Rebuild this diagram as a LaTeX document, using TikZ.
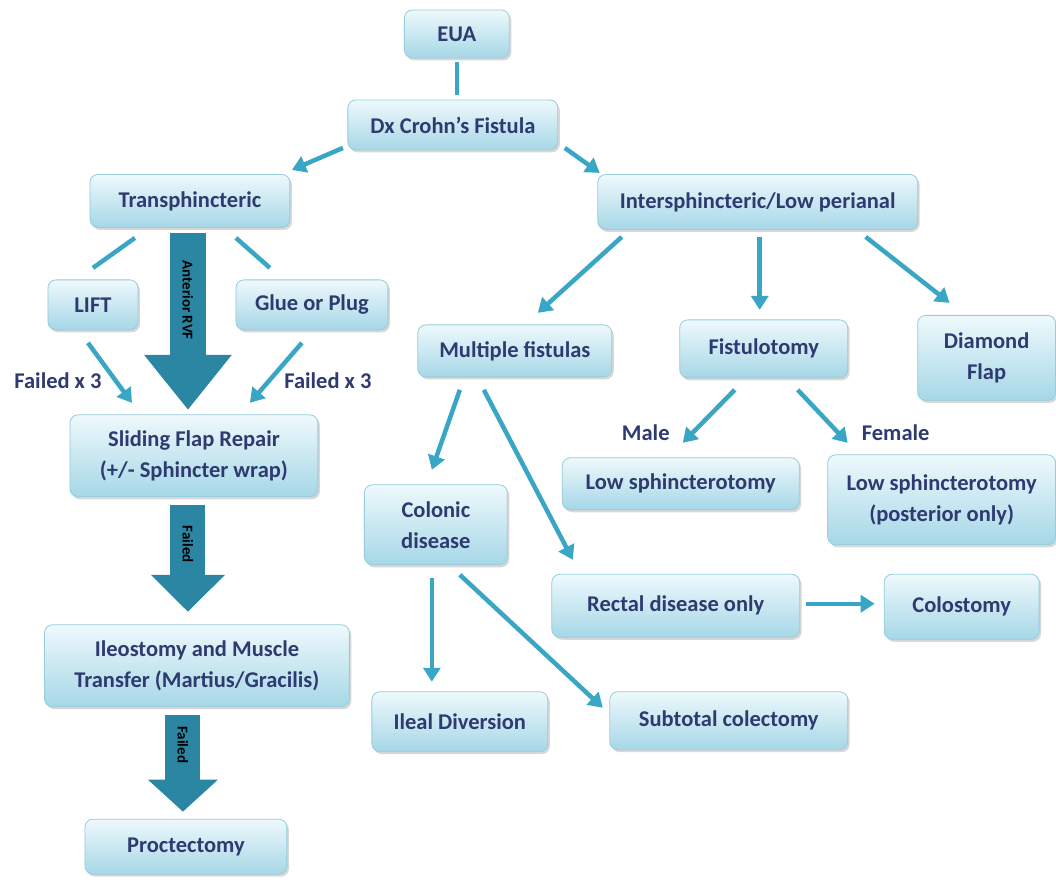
\documentclass[tikz,border=0pt]{standalone}
\usepackage{fontspec}
\setmainfont{Carlito}
\usetikzlibrary{arrows.meta, shadows}

\definecolor{boxtop}{RGB}{238,249,252}
\definecolor{boxbot}{RGB}{166,215,231}
\definecolor{boxline}{RGB}{150,204,221}
\definecolor{txtc}{RGB}{46,58,112}
\definecolor{linkc}{RGB}{58,166,198}
\definecolor{bigc}{RGB}{42,134,162}

\begin{document}
\begin{tikzpicture}
    [
        x=1pt, y=-1pt,
        basic/.style = {text=txtc, font=\bfseries\fontsize{22.5}{31}\selectfont, align=center},
        box/.style = {basic, draw=boxline, line width=0.8pt, rounded corners=8pt,
                      top color=boxtop, bottom color=boxbot,
                      drop shadow={shadow xshift=2pt, shadow yshift=-2.5pt, opacity=0.25, fill=black!60}},
        lbl/.style = {basic},
        link/.style = {draw=linkc, line width=4.5pt},
        conn/.style = {link, -{Triangle[width=17pt, length=14pt]}},
        big/.style = {draw=bigc, line width=36pt},
        bigtxt/.style = {text=black, font=\bfseries\fontsize{15}{16}\selectfont, rotate=-90}
    ]
    \path [fill=white] (0,0) rectangle (1056,882);

    \node [box, minimum width=105pt, minimum height=48pt] (eua) at (457,34) {EUA};
    \node [box, minimum width=210pt, minimum height=50pt] (dx) at (453,125) {Dx Crohn’s Fistula};
    \node [box, minimum width=200pt, minimum height=53pt] (trans) at (190,201) {Transphincteric};
    \node [box, minimum width=320pt, minimum height=55pt] (inter) at (758,202) {Intersphincteric/Low perianal};

    \node [box, minimum width=90pt, minimum height=50pt] (lift) at (93,305) {LIFT};
    \node [box, minimum width=152pt, minimum height=50pt] (glue) at (312,305) {Glue or Plug};
    \node [box, minimum width=248pt, minimum height=82pt] (slide) at (194,456) {Sliding Flap Repair\\(+/- Sphincter wrap)};
    \node [box, minimum width=305pt, minimum height=82pt] (ileo) at (197,666) {Ileostomy and Muscle\\Transfer (Martius/Gracilis)};
    \node [box, minimum width=202pt, minimum height=55pt] (proct) at (186,847) {Proctectomy};

    \node [box, minimum width=194pt, minimum height=52pt] (multi) at (515,351) {Multiple fistulas};
    \node [box, minimum width=168pt, minimum height=58pt] (fistu) at (764,349) {Fistulotomy};
    \node [box, minimum width=138pt, minimum height=85pt] (diam) at (987,358) {Diamond\\Flap};
    \node [box, minimum width=237pt, minimum height=52pt] (lowsph) at (681,484) {Low sphincterotomy};
    \node [box, minimum width=228pt, minimum height=90pt] (lowpost) at (942,500) {Low sphincterotomy\\(posterior only)};

    \node [box, minimum width=143pt, minimum height=80pt] (colonic) at (436,525) {Colonic\\disease};
    \node [box, minimum width=248pt, minimum height=63pt] (rectal) at (676,606) {Rectal disease only};
    \node [box, minimum width=155pt, minimum height=65pt] (colost) at (962,607) {Colostomy};
    \node [box, minimum width=176pt, minimum height=60pt] (ileal) at (460,722) {Ileal Diversion};
    \node [box, minimum width=238pt, minimum height=58pt] (subt) at (729,721) {Subtotal colectomy};

    \node [lbl] (failL) at (58,381) {Failed x 3};
    \node [lbl] (failR) at (328,381) {Failed x 3};
    \node [lbl] (male) at (646,433) {Male};
    \node [lbl] (female) at (896,433) {Female};

    % big arrows down the left side
    \draw [big, -{Triangle[width=84pt, length=55pt]}] ([shift={(-2,32)}]trans.center) -- ([shift={(-6,-46)}]slide.center)
        node[bigtxt, pos=0.38] {Anterior RVF};
    \draw [big, line width=35pt, -{Triangle[width=72pt, length=37pt]}] ([shift={(-6,49)}]slide.center) -- ([shift={(-9,-54)}]ileo.center)
        node[bigtxt, pos=0.37] {Failed};
    \draw [big, line width=35pt, -{Triangle[width=68pt, length=32pt]}] ([shift={(-14,49)}]ileo.center) -- ([shift={(-3,-35)}]proct.center)
        node[bigtxt, pos=0.31] {Failed};

    \draw [link] ([shift={(0,28)}]eua.center) -- ([shift={(4,-30)}]dx.center);
    \draw [conn] ([shift={(-110,23)}]dx.center) -- ([shift={(102,-31)}]trans.center);
    \draw [conn] ([shift={(112,23)}]dx.center) -- ([shift={(-158,-29)}]inter.center);

    \draw [link] ([shift={(-55,37)}]trans.center) -- ([shift={(0,-37)}]lift.center);
    \draw [link] ([shift={(46,37)}]trans.center) -- ([shift={(-42,-37)}]glue.center);
    \draw [conn] ([shift={(-5,38)}]lift.center) -- ([shift={(-62,-53)}]slide.center);
    \draw [conn] ([shift={(-10,38)}]glue.center) -- ([shift={(56,-53)}]slide.center);

    \draw [conn] ([shift={(-136,35)}]inter.center) -- ([shift={(23,-38)}]multi.center);
    \draw [conn] ([shift={(2,35)}]inter.center) -- ([shift={(-4,-39)}]fistu.center);
    \draw [conn] ([shift={(108,35)}]inter.center) -- ([shift={(-37,-55)}]diam.center);

    \draw [conn] ([shift={(-29,41)}]fistu.center) -- ([shift={(2,-41)}]lowsph.center);
    \draw [conn] ([shift={(34,41)}]fistu.center) -- ([shift={(-94,-57)}]lowpost.center);

    \draw [conn] ([shift={(-55,39)}]multi.center) -- ([shift={(-4,-55)}]colonic.center);
    \draw [conn] ([shift={(-31,39)}]multi.center) -- ([shift={(-103,-46)}]rectal.center);
    \draw [conn] ([shift={(130,-2)}]rectal.center) -- ([shift={(-87,-3)}]colost.center);

    \draw [conn] ([shift={(-4,53)}]colonic.center) -- ([shift={(-28,-40)}]ileal.center);
    \draw [conn] ([shift={(24,50)}]colonic.center) -- ([shift={(-126,-13)}]subt.center);

\end{tikzpicture}
\end{document}
